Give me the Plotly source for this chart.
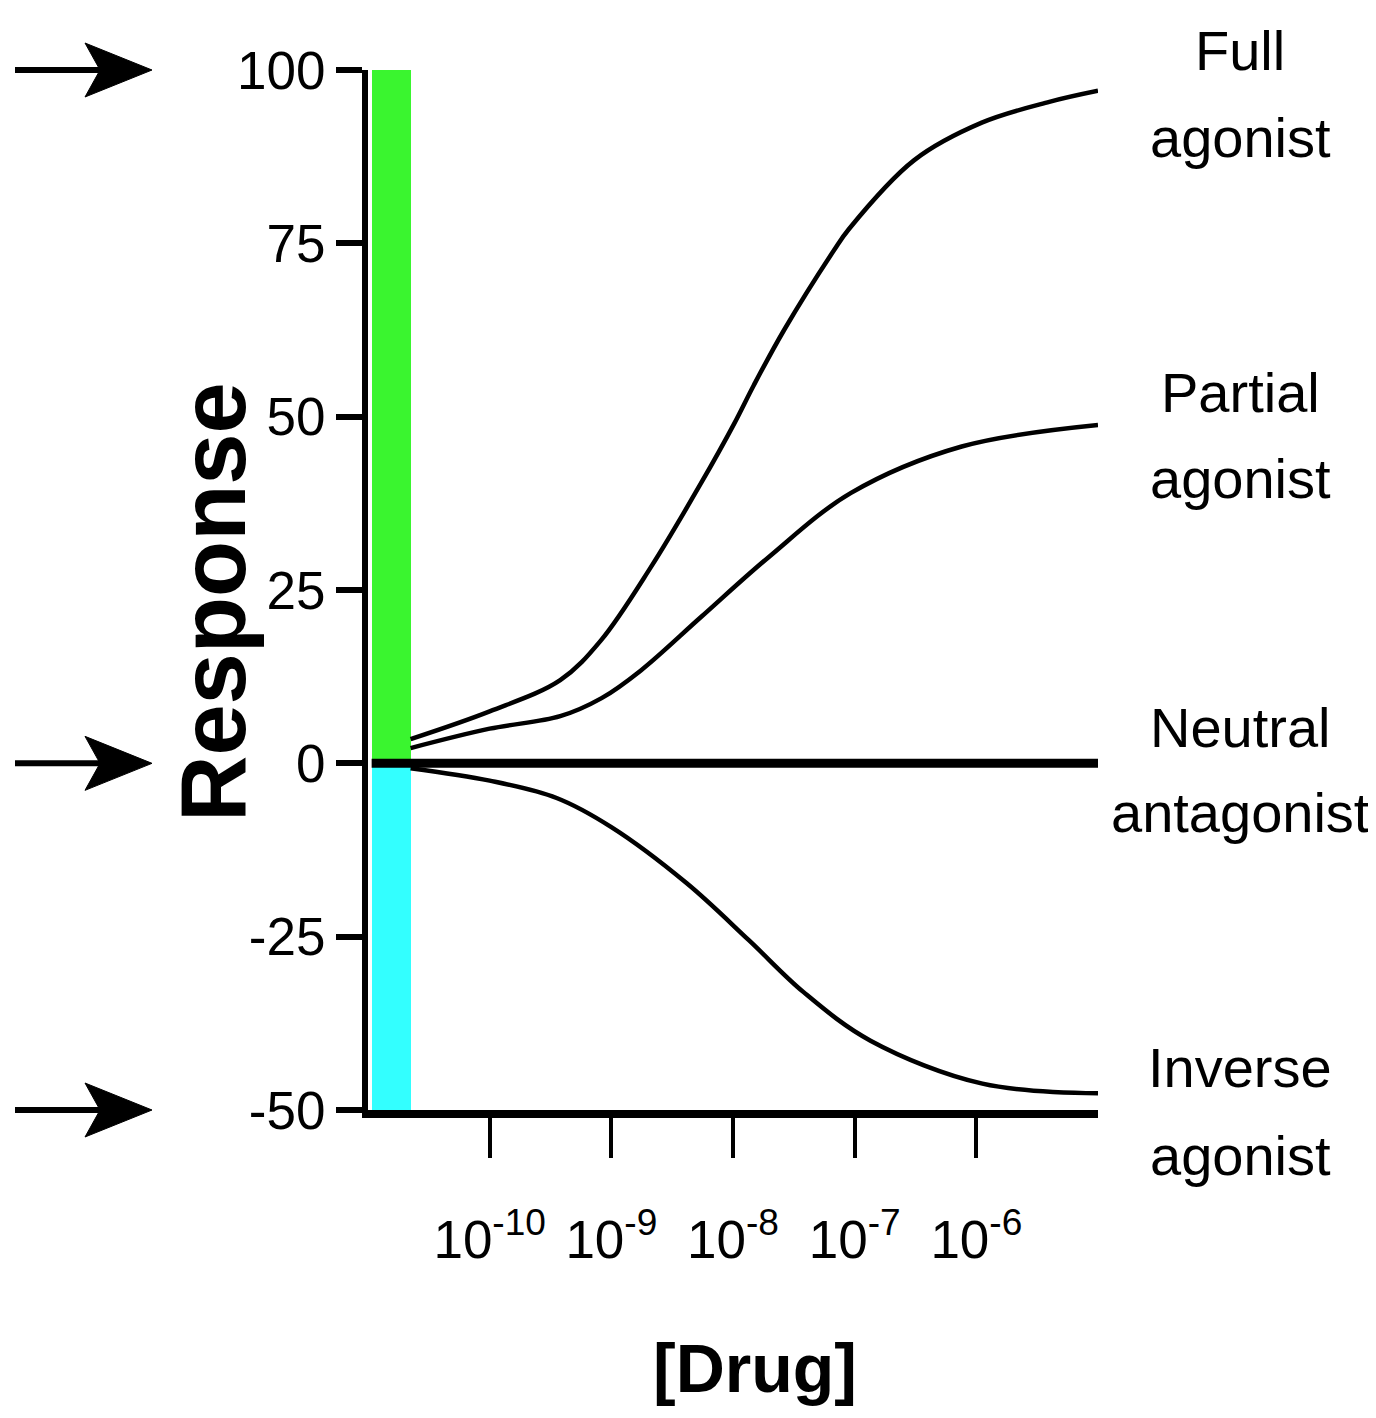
import plotly.graph_objects as go

# ---------------- data (log10 molar concentration vs response) ----------------
full_log_conc = [-10.65, -10.0, -9.42, -9.087, -8.675, -8.263, -7.99, -7.83, -7.58, -7.17,
                 -7.05, -6.51, -5.955, -5.40, -5.0]
full_resp = [3.5, 7.5, 12.0, 17.7, 28.3, 40.4, 49.0, 54.5, 62.5, 74.0,
             77.0, 87.0, 92.4, 95.4, 97.0]

partial_log_conc = [-10.65, -10.0, -9.42, -9.08, -8.757, -8.263, -7.71, -7.03, -6.12, -5.0]
partial_resp = [2.2, 5.0, 6.8, 9.4, 13.4, 21.1, 29.7, 39.0, 45.7, 48.8]

neutral_log_conc = [-10.97, -5.0]
neutral_resp = [0.0, 0.0]

inverse_log_conc = [-10.65, -10.0, -9.45, -9.0, -8.38, -7.87, -7.42, -6.87, -5.95, -5.0]
inverse_resp = [-0.7, -2.5, -5.0, -9.2, -17.3, -25.5, -33.0, -40.0, -46.2, -47.6]

basal_bar_resp = [100, -50]          # constitutive activity range (green up, cyan down)
basal_bar_colors = ["#3AF52F", "#33FFFF"]

x_tick_exponents = [-10, -9, -8, -7, -6]
x_tick_labels = [f"10<sup>{e}</sup>" for e in x_tick_exponents]
y_ticks = [-50, -25, 0, 25, 50, 75, 100]

curve_label_lines = [("Full", "agonist"), ("Partial", "agonist"),
                     ("Neutral", "antagonist"), ("Inverse", "agonist")]
arrow_levels = [100, 0, -50]

# ---------------- layout constants ----------------
PAGE_PAD = 8                      # default body margin of the html page
W, H = 1360, 1400
L, T = 360, 62
PW, PH = 730, 1040
R, B = W - L - PW, H - T - PH
X_RANGE = [-11, -5]
Y_RANGE = [-50, 100]
BAR_POS = -10.805
BAR_W = 0.32

SANS = "Liberation Sans, Arial, sans-serif"

# screen-pixel positions of the decorations (from the reference)
LABEL_X = 1240
LABEL_LINE_Y = [(50, 137), (392, 478), (727, 812), (1067, 1155)]


def sx(p):
    return (p - PAGE_PAD - L) / PW


def sy(p):
    return (T + PH - (p - PAGE_PAD)) / PH


def val_to_paper_y(v):
    return (v - Y_RANGE[0]) / (Y_RANGE[1] - Y_RANGE[0])


fig = go.Figure()

fig.add_trace(go.Bar(
    x=[BAR_POS] * len(basal_bar_resp), y=basal_bar_resp, width=[BAR_W] * len(basal_bar_resp),
    marker=dict(color=basal_bar_colors, line=dict(width=0)), showlegend=False, hoverinfo="skip"))

line_style = dict(color="black", width=4.5, shape="spline", smoothing=1.0)
for xs, ys in [(full_log_conc, full_resp), (partial_log_conc, partial_resp),
               (inverse_log_conc, inverse_resp)]:
    fig.add_trace(go.Scatter(x=xs, y=ys, mode="lines", line=line_style,
                             showlegend=False, cliponaxis=False))

fig.add_trace(go.Scatter(x=neutral_log_conc, y=neutral_resp, mode="lines",
                         line=dict(color="black", width=9), showlegend=False, cliponaxis=False))

fig.update_xaxes(
    range=X_RANGE, showgrid=False, zeroline=False,
    showline=True, linecolor="black", linewidth=8,
    tickmode="array", tickvals=x_tick_exponents, ticktext=x_tick_labels,
    ticks="outside", ticklen=40, tickwidth=3.5, tickcolor="black", tickangle=0,
    tickfont=dict(family=SANS, size=53, color="black"),
    ticklabelstandoff=36,
)
fig.update_yaxes(
    range=Y_RANGE, showgrid=False, zeroline=False,
    showline=True, linecolor="black", linewidth=6,
    tickmode="array", tickvals=y_ticks, ticktext=[str(v) for v in y_ticks],
    ticks="outside", ticklen=26, tickwidth=6, tickcolor="black",
    tickfont=dict(family=SANS, size=53, color="black"),
)

annotations = []
for (l1, l2), (y1, y2) in zip(curve_label_lines, LABEL_LINE_Y):
    for txt, yy in [(l1, y1), (l2, y2)]:
        annotations.append(dict(text=txt, xref="paper", yref="paper", x=sx(LABEL_X), y=sy(yy),
                                xanchor="center", yanchor="middle", showarrow=False,
                                font=dict(family=SANS, size=56, color="black")))
annotations.append(dict(text="<b>[Drug]</b>", xref="paper", yref="paper",
                        x=sx(755), y=sy(1368), xanchor="center", yanchor="middle",
                        showarrow=False, font=dict(family=SANS, size=68, color="black")))
annotations.append(dict(text="<b>Response</b>", xref="paper", yref="paper",
                        x=sx(213), y=sy(602), xanchor="center", yanchor="middle",
                        textangle=-90, showarrow=False,
                        font=dict(family=SANS, size=92, color="black")))

shapes = []
hh = 27 / PH
for lvl in arrow_levels:
    yc = val_to_paper_y(lvl)
    shapes.append(dict(type="line", xref="paper", yref="paper",
                       x0=sx(15), x1=sx(105), y0=yc, y1=yc,
                       line=dict(color="black", width=6)))
    path = (f"M {sx(152)},{yc} L {sx(85)},{yc + hh} L {sx(100)},{yc} "
            f"L {sx(85)},{yc - hh} Z")
    shapes.append(dict(type="path", xref="paper", yref="paper", path=path,
                       fillcolor="black", line=dict(color="black", width=1)))

fig.update_layout(
    width=W, height=H, margin=dict(l=L, r=R, t=T, b=B, pad=0),
    plot_bgcolor="white", paper_bgcolor="white",
    annotations=annotations, shapes=shapes, showlegend=False, bargap=0,
)

fig.write_html("out.html")
